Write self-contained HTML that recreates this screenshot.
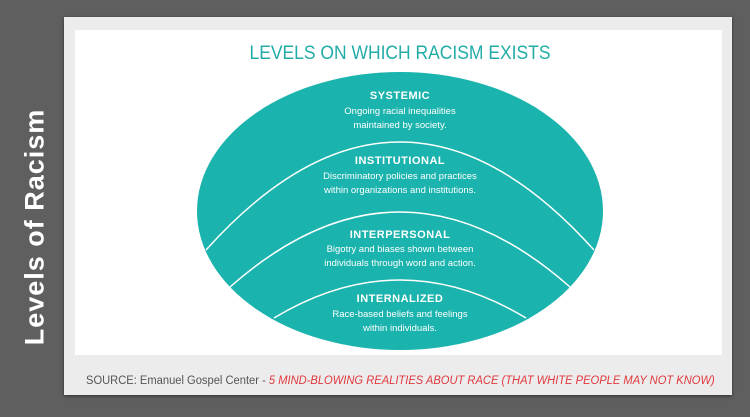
<!DOCTYPE html>
<html><head><style>
body{margin:0;width:750px;height:417px;background:#5f5f5f;position:relative;overflow:hidden;font-family:"Liberation Sans",sans-serif}
.side{position:absolute;left:35px;top:227px;transform:translate(-50%,-50%) rotate(-90deg);color:#fff;font-weight:bold;font-size:27px;white-space:nowrap;letter-spacing:1px}
.card{position:absolute;left:64px;top:17px;width:668px;height:378px;background:#ececec;box-shadow:0 1px 3px rgba(0,0,0,.5)}
.inner{position:absolute;left:75px;top:30px;width:647px;height:325px;background:#fff}
.foot{position:absolute;left:86px;top:375px;font-size:11.5px;color:#555;white-space:nowrap;transform:scaleX(.97);transform-origin:left}
.foot i{color:#e0393e}
</style></head><body>
<div class="side">Levels of Racism</div>
<div class="card"></div>
<div class="inner"></div>
<svg style="position:absolute;left:0;top:0" width="750" height="417">
<text x="400" y="59" text-anchor="middle" font-family="Liberation Sans" font-size="19" fill="#22aca8" transform="translate(400 0) scale(0.92 1) translate(-400 0)">LEVELS ON WHICH RACISM EXISTS</text>
<ellipse cx="400" cy="211" rx="203" ry="139" fill="#1ab3ad"/>
<g fill="none" stroke="#fff" stroke-width="1.5">
<path d="M206,250 Q400,34 594,250"/>
<path d="M230,287 Q400,137 570,287"/>
<path d="M274,318 Q400,242 526,318"/>
</g>
<g fill="#fff" text-anchor="middle" font-family="Liberation Sans">
<text x="400" y="99" font-size="11" font-weight="bold" letter-spacing=".5">SYSTEMIC</text>
<text x="400" y="114" font-size="9.5">Ongoing racial inequalities</text>
<text x="400" y="128" font-size="9.5">maintained by society.</text>
<text x="400" y="164" font-size="11" font-weight="bold" letter-spacing=".5">INSTITUTIONAL</text>
<text x="400" y="179" font-size="9.5">Discriminatory policies and practices</text>
<text x="400" y="193" font-size="9.5">within organizations and institutions.</text>
<text x="400" y="238" font-size="11" font-weight="bold" letter-spacing=".5">INTERPERSONAL</text>
<text x="400" y="252" font-size="9.5">Bigotry and biases shown between</text>
<text x="400" y="266" font-size="9.5">individuals through word and action.</text>
<text x="400" y="302" font-size="11" font-weight="bold" letter-spacing=".5">INTERNALIZED</text>
<text x="400" y="317" font-size="9.5">Race-based beliefs and feelings</text>
<text x="400" y="331" font-size="9.5">within individuals.</text>
</g>
</svg>
<div class="foot">SOURCE: Emanuel Gospel Center - <i>5 MIND-BLOWING REALITIES ABOUT RACE (THAT WHITE PEOPLE MAY NOT KNOW)</i></div>
</body></html>
